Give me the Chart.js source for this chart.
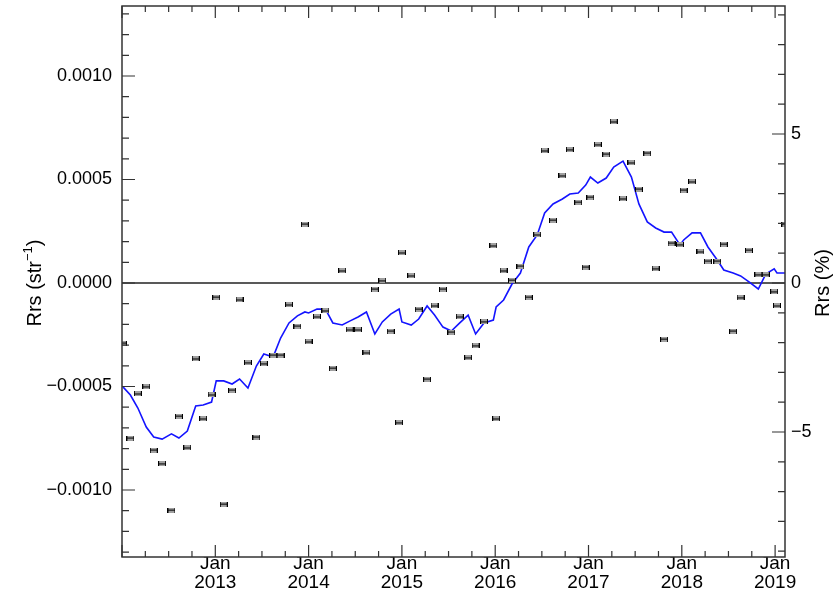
<!DOCTYPE html>
<html><head><meta charset="utf-8">
<script src="https://cdn.jsdelivr.net/npm/chart.js@4/dist/chart.umd.min.js"></script>
<style>html,body{margin:0;padding:0;background:#fff;}canvas{display:block;}</style>
</head><body>
<canvas id="c" width="840" height="597"></canvas>
<script>
// ---- data (decimal year of each observation) ----
const obsYears = [
 2012.01,2012.09,2012.17,2012.26,2012.34,2012.43,2012.53,2012.61,2012.70,2012.79,
 2012.87,2012.96,2013.01,2013.09,2013.18,2013.26,2013.35,2013.44,2013.52,2013.62,
 2013.70,2013.79,2013.88,2013.96,2014.00,2014.09,2014.18,2014.26,2014.36,2014.44,
 2014.53,2014.62,2014.71,2014.79,2014.88,2014.97,2015.00,2015.10,2015.18,2015.27,
 2015.35,2015.44,2015.53,2015.62,2015.71,2015.79,2015.88,2015.98,2016.01,2016.09,
 2016.18,2016.27,2016.36,2016.45,2016.53,2016.62,2016.72,2016.80,2016.89,2016.97,
 2017.02,2017.10,2017.19,2017.27,2017.37,2017.46,2017.54,2017.63,2017.72,2017.81,
 2017.89,2017.98,2018.02,2018.11,2018.20,2018.28,2018.38,2018.45,2018.55,2018.63,
 2018.72,2018.82,2018.90,2018.99,2019.02,2019.11
];
// Rrs difference of each observation (str^-1)
const obsValues = [
 -0.000290,-0.000749,-0.000536,-0.000502,-0.000807,-0.000874,-0.001097,-0.000643,-0.000797,-0.000367,
 -0.000657,-0.000541,-0.000068,-0.001068,-0.000517,-0.000082,-0.000386,-0.000744,-0.000391,-0.000348,
 -0.000348,-0.000106,-0.000208, 0.000285,-0.000285,-0.000164,-0.000135,-0.000411, 0.000058,-0.000227,
 -0.000227,-0.000338,-0.000029, 0.000010,-0.000232,-0.000676, 0.000145, 0.000034,-0.000126,-0.000464,
 -0.000111,-0.000029,-0.000237,-0.000164,-0.000362,-0.000304,-0.000188, 0.000179,-0.000657, 0.000058,
  0.000014, 0.000082,-0.000068, 0.000232, 0.000638, 0.000304, 0.000517, 0.000643, 0.000391, 0.000077,
  0.000415, 0.000667, 0.000623, 0.000778, 0.000406, 0.000580, 0.000454, 0.000628, 0.000068,-0.000271,
  0.000193, 0.000184, 0.000449, 0.000488, 0.000150, 0.000106, 0.000106, 0.000188,-0.000232,-0.000072,
  0.000159, 0.000039, 0.000039,-0.000043,-0.000111, 0.000285
];
// running mean (blue line)
const meanValues = [
 -0.000502,-0.000541,-0.000604,-0.000696,-0.000744,-0.000754,-0.000729,-0.000749,-0.000715,-0.000594,
 -0.000589,-0.000575,-0.000473,-0.000473,-0.000488,-0.000464,-0.000507,-0.000401,-0.000343,-0.000357,
 -0.000266,-0.000193,-0.000159,-0.000140,-0.000145,-0.000126,-0.000126,-0.000193,-0.000203,-0.000184,
 -0.000164,-0.000140,-0.000246,-0.000188,-0.000150,-0.000126,-0.000188,-0.000203,-0.000174,-0.000111,
 -0.000155,-0.000213,-0.000232,-0.000193,-0.000155,-0.000246,-0.000193,-0.000179,-0.000116,-0.000082,
 -0.000005, 0.000048, 0.000174, 0.000232, 0.000338, 0.000382, 0.000406, 0.000430, 0.000435, 0.000473,
  0.000512, 0.000483, 0.000507, 0.000560, 0.000589, 0.000512, 0.000382, 0.000295, 0.000266, 0.000246,
  0.000246, 0.000184, 0.000208, 0.000242, 0.000242, 0.000174, 0.000111, 0.000063, 0.000048, 0.000034,
  0.000005,-0.000029, 0.000043, 0.000068, 0.000048, 0.000048
];
const leftTicks = [-0.0010,-0.0005,0.0,0.0005,0.0010];
const rightTicks = [-5,0,5];
const yearTicks = [2013,2014,2015,2016,2017,2018,2019];
const monthNames = ['Jan'];

const X_MIN = 2012.0, X_MAX = 2019.106;
const Y_MIN = -0.0013237, Y_MAX = 0.0013382;
const Y2_MIN = -9.195, Y2_MAX = 9.295;

const FONT = '"Liberation Sans", Arial, Helvetica, sans-serif';
const FS = 18;

function makeMarker(){
  const c = document.createElement('canvas');
  c.width = 8; c.height = 5;
  const g = c.getContext('2d');
  g.fillStyle = '#a0a0a0'; g.fillRect(0,0,8,5);
  g.fillStyle = '#000';
  g.fillRect(0,0,1,5); g.fillRect(7,0,1,5); g.fillRect(0,2,8,1);
  return c;
}
const marker = makeMarker();

function fmtLeft(v){
  if (Math.abs(v) < 1e-12) return '0.0000';
  return (v < 0 ? '\u2212' : '') + Math.abs(v).toFixed(4);
}
function fmtRight(v){
  if (v === 0) return '0';
  return (v < 0 ? '\u2212' : '') + Math.abs(v);
}

const framePlugin = {
  id: 'frame',
  beforeDatasetsDraw(chart){
    const {ctx, chartArea:a, scales} = chart;
    const y0 = scales.y.getPixelForValue(0);
    ctx.save();
    ctx.strokeStyle = '#222'; ctx.lineWidth = 1.5;
    ctx.beginPath(); ctx.moveTo(a.left, y0); ctx.lineTo(a.right, y0); ctx.stroke();
    ctx.restore();
  },
  afterDraw(chart){
    const {ctx, chartArea:a, scales} = chart;
    ctx.save();
    ctx.strokeStyle = '#333'; ctx.lineWidth = 1.5;
    ctx.strokeRect(a.left, a.top, a.right - a.left, a.bottom - a.top);
    ctx.lineWidth = 1.2;
    ctx.beginPath();
    for (let k = -13; k <= 13; k++){
      const py = scales.y.getPixelForValue(k * 0.0001);
      if (py < a.top || py > a.bottom) continue;
      const len = (k % 5 === 0) ? 13 : 7;
      ctx.moveTo(a.left, py); ctx.lineTo(a.left + len, py);
    }
    for (let k = -9; k <= 9; k++){
      const py = scales.y2.getPixelForValue(k);
      if (py < a.top || py > a.bottom) continue;
      const len = (k % 5 === 0) ? 13 : 7;
      ctx.moveTo(a.right, py); ctx.lineTo(a.right - len, py);
    }
    for (let q = 0; q <= 28; q++){
      const px = scales.x.getPixelForValue(2012 + q * 0.25);
      if (px < a.left || px > a.right) continue;
      const len = (q % 4 === 0) ? 12 : 6;
      ctx.moveTo(px, a.bottom); ctx.lineTo(px, a.bottom - len);
      ctx.moveTo(px, a.top); ctx.lineTo(px, a.top + len);
    }
    ctx.stroke();

    ctx.fillStyle = '#000';
    ctx.textBaseline = 'middle';
    function rotText(cx, cy, parts){
      ctx.save();
      ctx.translate(cx, cy); ctx.rotate(-Math.PI/2);
      let w = 0;
      parts.forEach(p => { ctx.font = p.size + 'px ' + FONT; p.w = ctx.measureText(p.t).width; w += p.w; });
      let x = -w/2;
      ctx.textAlign = 'left';
      parts.forEach(p => { ctx.font = p.size + 'px ' + FONT; ctx.fillText(p.t, x, p.dy || 0); x += p.w; });
      ctx.restore();
    }
    rotText(35, 283, [{t:'Rrs (str', size:20},{t:'\u22121', size:13, dy:-7},{t:')', size:20}]);
    rotText(823, 283, [{t:'Rrs (%)', size:20}]);
    ctx.restore();
  }
};

const ctx = document.getElementById('c').getContext('2d');
new Chart(ctx, {
  data: {
    datasets: [
      {
        type: 'line',
        label: 'running mean',
        data: obsYears.map((x, i) => ({x, y: meanValues[i]})),
        borderColor: '#1414ff',
        borderWidth: 1.6,
        pointRadius: 0,
        tension: 0,
        fill: false,
        yAxisID: 'y',
        order: 1
      },
      {
        type: 'scatter',
        label: 'observations',
        data: obsYears.map((x, i) => ({x, y: obsValues[i]})),
        pointStyle: marker,
        pointRadius: 4,
        yAxisID: 'y',
        order: 0
      }
    ]
  },
  options: {
    responsive: false,
    devicePixelRatio: 1,
    animation: false,
    layout: { padding: { top: 6, left: 0, right: 0, bottom: 0 } },
    plugins: { legend: { display: false }, tooltip: { enabled: false } },
    scales: {
      x: {
        type: 'linear', position: 'bottom', min: X_MIN, max: X_MAX,
        grid: { display: false, drawTicks: false },
        border: { display: false },
        afterBuildTicks(s){ s.ticks = yearTicks.map(v => ({value: v})); },
        afterFit(s){ s.height = 40; s.paddingLeft = 0; s.paddingRight = 0; },
        ticks: {
          autoSkip: false, maxRotation: 0, minRotation: 0, padding: -3, color: '#000',
          font: { family: FONT, size: 19, lineHeight: 1.0 },
          callback(v){ return [monthNames[0], String(Math.round(v))]; }
        }
      },
      y: {
        type: 'linear', position: 'left', min: Y_MIN, max: Y_MAX,
        grid: { display: false, drawTicks: false },
        border: { display: false },
        afterBuildTicks(s){ s.ticks = leftTicks.map(v => ({value: v})); },
        afterFit(s){ s.width = 122; s.paddingTop = 0; s.paddingBottom = 0; },
        ticks: { padding: 10, color: '#000', font: { family: FONT, size: FS }, callback: fmtLeft }
      },
      y2: {
        type: 'linear', position: 'right', min: Y2_MIN, max: Y2_MAX,
        grid: { display: false, drawTicks: false },
        border: { display: false },
        afterBuildTicks(s){ s.ticks = rightTicks.map(v => ({value: v})); },
        afterFit(s){ s.width = 55; s.paddingTop = 0; s.paddingBottom = 0; },
        ticks: { padding: 6, color: '#000', font: { family: FONT, size: FS }, callback: fmtRight }
      }
    }
  },
  plugins: [framePlugin]
});
</script>
</body></html>
